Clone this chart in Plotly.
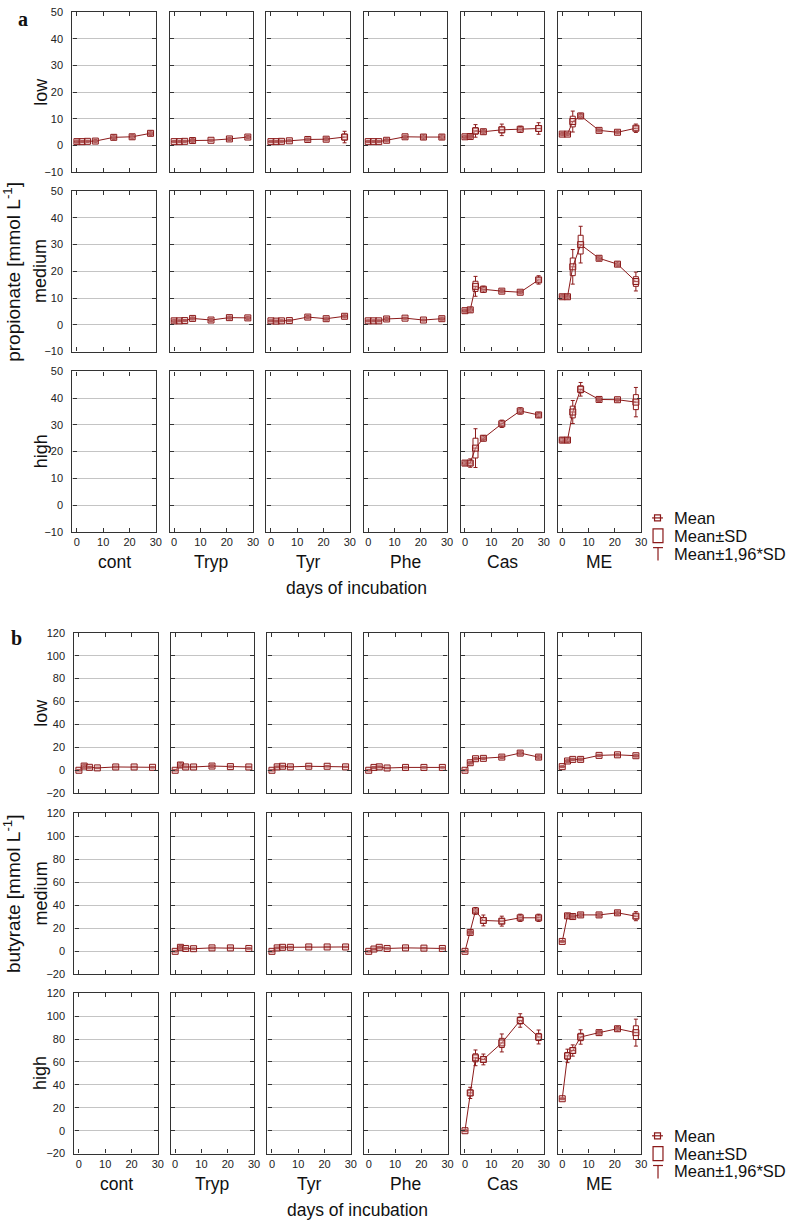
import plotly.graph_objects as go

W, H = 797, 1223
RED = "#8b1a1a"

days = [0, 2, 4, 7, 14, 21, 28]
treatments = ["cont", "Tryp", "Tyr", "Phe", "Cas", "ME"]
levels = ["low", "medium", "high"]

# ---- panel a: propionate ----
prop_low_mean = {
    "cont": [1.5, 1.5, 1.6, 1.7, 3.1, 3.3, 4.6],
    "Tryp": [1.5, 1.5, 1.6, 1.9, 2.0, 2.5, 3.2],
    "Tyr": [1.5, 1.5, 1.6, 1.8, 2.3, 2.4, 3.2],
    "Phe": [1.5, 1.5, 1.5, 2.0, 3.3, 3.2, 3.2],
    "Cas": [3.3, 3.4, 5.5, 5.2, 5.9, 6.1, 6.4],
    "ME": [4.3, 4.3, 9.0, 11.1, 5.7, 5.0, 6.5],
}
prop_low_sd = {
    "cont": [0.3, 0.2, 0.2, 0.3, 0.4, 0.4, 0.4],
    "Tryp": [0.2, 0.2, 0.2, 0.4, 0.2, 0.3, 0.3],
    "Tyr": [0.2, 0.2, 0.2, 0.2, 0.3, 0.3, 1.1],
    "Phe": [0.2, 0.2, 0.2, 0.3, 0.3, 0.4, 0.4],
    "Cas": [0.3, 0.4, 1.2, 0.4, 1.1, 0.6, 1.1],
    "ME": [0.3, 0.3, 2.0, 0.5, 0.3, 0.3, 0.8],
}
prop_med_mean = {
    "Tryp": [1.5, 1.5, 1.6, 2.4, 1.8, 2.7, 2.6],
    "Tyr": [1.5, 1.4, 1.5, 1.6, 2.9, 2.3, 3.2],
    "Phe": [1.5, 1.5, 1.5, 2.2, 2.5, 1.8, 2.3],
    "Cas": [5.3, 5.6, 14.4, 13.3, 12.6, 12.2, 16.8],
    "ME": [10.5, 10.5, 21.7, 30.0, 24.9, 22.7, 16.2],
}
prop_med_sd = {
    "Tryp": [0.3, 0.2, 0.2, 0.3, 0.3, 0.3, 0.3],
    "Tyr": [0.2, 0.2, 0.2, 0.2, 0.3, 0.3, 0.3],
    "Phe": [0.2, 0.2, 0.2, 0.3, 0.2, 0.2, 0.3],
    "Cas": [0.3, 0.4, 1.9, 0.6, 0.3, 0.3, 0.8],
    "ME": [0.4, 0.4, 3.3, 3.5, 0.4, 0.4, 1.8],
}
prop_high_mean = {
    "Cas": [15.7, 15.7, 21.3, 25.0, 30.4, 35.2, 33.7],
    "ME": [24.3, 24.3, 34.8, 43.3, 39.5, 39.4, 38.5],
}
prop_high_sd = {
    "Cas": [0.4, 0.8, 3.7, 0.5, 0.7, 0.6, 0.5],
    "ME": [0.5, 0.5, 2.2, 1.3, 0.4, 0.3, 2.8],
}

# ---- panel b: butyrate ----
buty_low_mean = {
    "cont": [0.0, 3.7, 2.6, 2.1, 2.9, 2.9, 2.6],
    "Tryp": [0.0, 4.6, 2.9, 2.9, 3.7, 3.2, 2.9],
    "Tyr": [0.0, 3.0, 3.5, 3.0, 3.5, 3.5, 3.0],
    "Phe": [0.0, 2.5, 3.0, 2.0, 2.5, 2.5, 2.5],
    "Cas": [0.0, 6.6, 10.1, 10.4, 11.5, 15.0, 11.5],
    "ME": [3.2, 8.1, 9.5, 9.5, 13.0, 13.5, 12.7],
}
buty_low_sd = {
    "cont": [0.3, 0.8, 0.4, 0.3, 0.4, 0.3, 0.3],
    "Tryp": [0.3, 1.0, 0.4, 0.3, 0.6, 0.3, 0.3],
    "Tyr": [0.3, 0.4, 0.4, 0.3, 0.3, 0.3, 0.3],
    "Phe": [0.3, 0.4, 0.4, 0.3, 0.3, 0.3, 0.3],
    "Cas": [0.3, 0.6, 0.5, 0.5, 0.6, 0.8, 0.8],
    "ME": [0.4, 0.6, 0.5, 0.6, 0.5, 0.5, 0.6],
}
buty_med_mean = {
    "Tryp": [0.0, 3.5, 2.5, 2.3, 3.0, 3.0, 2.5],
    "Tyr": [0.0, 3.0, 3.5, 3.5, 3.8, 3.8, 3.8],
    "Phe": [0.0, 2.0, 3.5, 2.5, 3.0, 2.8, 2.5],
    "Cas": [0.0, 16.4, 35.1, 26.8, 26.2, 29.1, 29.1],
    "ME": [8.6, 30.8, 30.2, 31.6, 31.6, 33.4, 30.5],
}
buty_med_sd = {
    "Tryp": [0.3, 0.8, 0.4, 0.3, 0.4, 0.3, 0.3],
    "Tyr": [0.3, 0.4, 0.4, 0.3, 0.3, 0.3, 0.3],
    "Phe": [0.3, 0.4, 0.4, 0.3, 0.3, 0.3, 0.3],
    "Cas": [0.4, 0.8, 1.5, 2.4, 2.2, 1.6, 1.6],
    "ME": [0.4, 1.0, 1.0, 0.8, 0.8, 0.8, 2.0],
}
buty_high_mean = {
    "Cas": [0.0, 33.0, 63.6, 62.2, 76.6, 96.2, 81.8],
    "ME": [27.9, 65.3, 70.0, 81.8, 85.6, 89.0, 85.6],
}
buty_high_sd = {
    "Cas": [0.4, 2.5, 3.5, 2.4, 4.0, 3.0, 3.1],
    "ME": [0.4, 3.0, 2.5, 3.2, 1.0, 1.0, 6.0],
}

x_ticks = [0, 10, 20, 30]
prop_ticks = [-10, 0, 10, 20, 30, 40, 50]
buty_ticks = [-20, 0, 20, 40, 60, 80, 100, 120]

panels = [
    dict(means=[prop_low_mean, prop_med_mean, prop_high_mean],
         sds=[prop_low_sd, prop_med_sd, prop_high_sd],
         yticks=prop_ticks,
         rows=[(6, 168), (187, 349), (369, 531)],
         cols=[73, 171, 268.5, 366.5, 464, 562],
         legend_y=517),
    dict(means=[buty_low_mean, buty_med_mean, buty_high_mean],
         sds=[buty_low_sd, buty_med_sd, buty_high_sd],
         yticks=buty_ticks,
         rows=[(633, 795), (815, 978), (997, 1159)],
         cols=[75, 172, 269.5, 367, 464, 562],
         legend_y=1141),
]
COLW = 84


def fx(px):
    return px / W


def fy(py):
    return 1 - py / H


fig = go.Figure()
layout_axes = {}
n = 0
for p in panels:
    for r, (top, bot) in enumerate(p["rows"]):
        for c, left in enumerate(p["cols"]):
            n += 1
            xa = "x" if n == 1 else f"x{n}"
            ya = "y" if n == 1 else f"y{n}"
            xk = "xaxis" if n == 1 else f"xaxis{n}"
            yk = "yaxis" if n == 1 else f"yaxis{n}"
            layout_axes[xk] = dict(
                domain=[fx(left), fx(left + COLW)], anchor=ya,
                range=[-1.7, 30], tickvals=x_ticks, ticks="inside", ticklen=4,
                tickcolor="#333", showline=True, linecolor="#333", linewidth=1.3,
                mirror="ticks", showgrid=False, zeroline=False,
                showticklabels=(r == 2),
                tickfont=dict(family="Liberation Sans", size=11, color="#222"),
            )
            yt = p["yticks"]
            layout_axes[yk] = dict(
                domain=[fy(bot), fy(top)], anchor=xa,
                range=[yt[0], yt[-1]], tickvals=yt, ticks="inside", ticklen=4,
                tickcolor="#333", showline=True, linecolor="#333", linewidth=1.3,
                mirror="ticks", showgrid=True, gridcolor="#c4c4c4", gridwidth=1,
                zeroline=False, showticklabels=(c == 0), ticklabelstandoff=6,
                tickfont=dict(family="Liberation Sans", size=11, color="#222"),
            )
            t = treatments[c]
            m = p["means"][r].get(t)
            s = p["sds"][r].get(t)
            if m is None:
                fig.add_trace(go.Scatter(x=[None], y=[None], xaxis=xa, yaxis=ya,
                                         showlegend=False, hoverinfo="skip"))
                continue
            fig.add_trace(go.Box(
                x=days, median=m,
                q1=[a - b for a, b in zip(m, s)],
                q3=[a + b for a, b in zip(m, s)],
                lowerfence=[a - 1.96 * b for a, b in zip(m, s)],
                upperfence=[a + 1.96 * b for a, b in zip(m, s)],
                width=1.9, whiskerwidth=0.8, boxpoints=False,
                fillcolor="rgba(0,0,0,0)", line=dict(color=RED, width=1),
                xaxis=xa, yaxis=ya, showlegend=False,
            ))
            fig.add_trace(go.Scatter(
                x=days, y=m, mode="lines+markers",
                line=dict(color=RED, width=1),
                marker=dict(symbol="square", size=6, color="rgba(230,180,180,0.4)",
                            line=dict(color=RED, width=1)),
                xaxis=xa, yaxis=ya, showlegend=False,
            ))

annotations = []
shapes = []
TXT = dict(family="Liberation Sans", size=17.5, color="#111")
LEGTXT = dict(family="Liberation Sans", size=16.5, color="#111")
ROWTXT = dict(family="Liberation Sans", size=18, color="#111")
YTXT = dict(family="Liberation Sans", size=19, color="#111")


def ann(text, x, y, font=TXT, xanchor="center", yanchor="middle", angle=0):
    annotations.append(dict(text=text, x=fx(x), y=fy(y), xref="paper", yref="paper",
                            showarrow=False, font=font, xanchor=xanchor,
                            yanchor=yanchor, textangle=angle))


ylabels = ["propionate [mmol L<sup>-1</sup>]", "butyrate [mmol L<sup>-1</sup>]"]
letters = [("<b>a</b>", 23, 13), ("<b>b</b>", 17, 638)]
for i, p in enumerate(panels):
    rows = p["rows"]
    for r, (top, bot) in enumerate(rows):
        ann(levels[r], 41, (top + bot) / 2, font=ROWTXT, angle=-90)
    ann(ylabels[i], 12, (rows[0][0] + rows[2][1]) / 2, font=YTXT, angle=-90)
    bot = rows[2][1]
    for c, left in enumerate(p["cols"]):
        ann(treatments[c], left + COLW / 2, bot + 31)
    ann("days of incubation", (p["cols"][0] + p["cols"][-1] + COLW) / 2, bot + 57)
    L, lx, ly = letters[i]
    ann(L, lx, ly, font=dict(family="Liberation Serif", size=20, color="#111"))
    # legend
    oy = p["legend_y"]
    ann("Mean", 677, oy, font=LEGTXT, xanchor="left")
    ann("Mean±SD", 677, oy + 18, font=LEGTXT, xanchor="left")
    ann("Mean±1,96*SD", 677, oy + 36, font=LEGTXT, xanchor="left")
    ln = dict(color=RED, width=1.2)
    shapes.append(dict(type="line", xref="paper", yref="paper", x0=fx(657), x1=fx(668),
                       y0=fy(oy), y1=fy(oy), line=ln))
    shapes.append(dict(type="rect", xref="paper", yref="paper", x0=fx(659.5), x1=fx(665.5),
                       y0=fy(oy - 3), y1=fy(oy + 3), line=ln))
    shapes.append(dict(type="rect", xref="paper", yref="paper", x0=fx(658), x1=fx(668),
                       y0=fy(oy + 11), y1=fy(oy + 25), line=ln))
    shapes.append(dict(type="line", xref="paper", yref="paper", x0=fx(658), x1=fx(668),
                       y0=fy(oy + 30), y1=fy(oy + 30), line=ln))
    shapes.append(dict(type="line", xref="paper", yref="paper", x0=fx(663), x1=fx(663),
                       y0=fy(oy + 30), y1=fy(oy + 43), line=ln))

fig.update_layout(
    width=W, height=H, autosize=False,
    margin=dict(l=0, r=0, t=0, b=0),
    paper_bgcolor="white", plot_bgcolor="white",
    boxmode="overlay", showlegend=False,
    annotations=annotations, shapes=shapes,
    **layout_axes,
)
fig.write_html(
    "out.html",
    config={"displayModeBar": False},
    post_script="document.body.style.margin='0';document.body.style.padding='0';"
                "document.body.style.overflow='hidden';",
)
